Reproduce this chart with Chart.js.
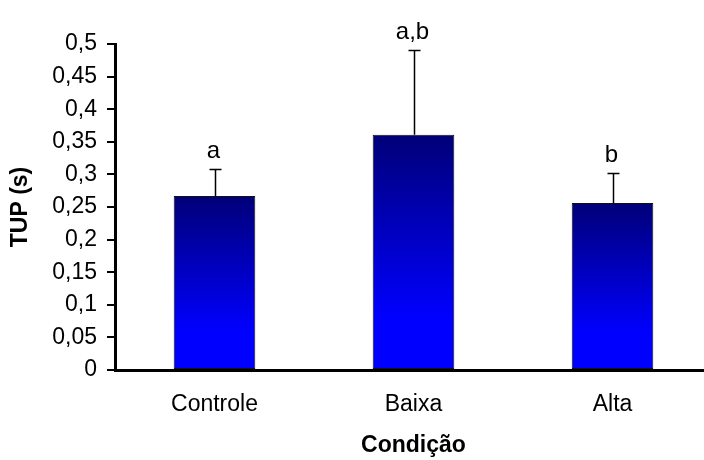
<!DOCTYPE html>
<html>
<head>
<meta charset="utf-8">
<title>TUP (s) por condição</title>
<script src="https://cdn.jsdelivr.net/npm/chart.js@4.4.1/dist/chart.umd.min.js"></script>
<style>
  html, body { margin: 0; padding: 0; background: #fff; }
  #wrap { width: 704px; height: 460px; overflow: hidden; }
</style>
</head>
<body>
<div id="wrap">
  <canvas id="tupChart" width="740" height="460"></canvas>
</div>
<script>
var categories = ['Controle', 'Baixa', 'Alta'];
var tupMeans = [0.267, 0.361, 0.256];
var tupErrors = [0.041, 0.130, 0.046];
var groupLetters = ['a', 'a,b', 'b'];
var yTickValues = [0, 0.05, 0.1, 0.15, 0.2, 0.25, 0.3, 0.35, 0.4, 0.45, 0.5];

var fontFamily = "'Liberation Sans', Arial, sans-serif";

// vertical fill per bar: navy at the top fading to pure blue near the base
function barGradient(ctx) {
    var chart = ctx.chart;
    var yScale = chart.scales.y;
    if (!yScale || !ctx.parsed) {
        return '#0000ff';
    }
    var top = yScale.getPixelForValue(ctx.parsed.y);
    var bottom = yScale.getPixelForValue(0);
    if (!isFinite(top) || !isFinite(bottom) || top === bottom) {
        return '#0000ff';
    }
    var g = chart.ctx.createLinearGradient(0, top, 0, bottom);
    g.addColorStop(0, '#000078');
    g.addColorStop(0.78, '#0000ff');
    g.addColorStop(1, '#0000ff');
    return g;
}

// one-sided error bars plus the group letters above each cap
var errorBars = {
    id: 'errorBars',
    afterDatasetsDraw: function (chart) {
        var ctx = chart.ctx;
        var yScale = chart.scales.y;
        var meta = chart.getDatasetMeta(0);
        ctx.save();
        ctx.strokeStyle = '#000';
        ctx.lineWidth = 1.5;
        ctx.fillStyle = '#000';
        ctx.font = '24px ' + fontFamily;
        ctx.textAlign = 'center';
        ctx.textBaseline = 'alphabetic';
        for (var i = 0; i < meta.data.length; i++) {
            var x = Math.round(meta.data[i].x) + 0.5;
            var yBar = yScale.getPixelForValue(tupMeans[i]);
            var yTop = Math.round(yScale.getPixelForValue(tupMeans[i] + tupErrors[i])) + 0.5;
            ctx.beginPath();
            ctx.moveTo(x, yBar);
            ctx.lineTo(x, yTop);
            ctx.moveTo(x - 6, yTop);
            ctx.lineTo(x + 6, yTop);
            ctx.stroke();
            ctx.fillText(groupLetters[i], x - 2, yTop - 12);
        }
        ctx.restore();
    }
};

var ctx = document.getElementById('tupChart').getContext('2d');
new Chart(ctx, {
    type: 'bar',
    data: {
        labels: categories,
        datasets: [{
            data: tupMeans,
            backgroundColor: barGradient,
            borderColor: '#111',
            borderWidth: 1,
            borderSkipped: false,
            categoryPercentage: 1,
            barPercentage: 0.41
        }]
    },
    options: {
        responsive: false,
        animation: false,
        layout: { padding: { left: 0, top: 44, right: 28, bottom: 0 } },
        plugins: {
            legend: { display: false },
            tooltip: { enabled: false }
        },
        scales: {
            x: {
                afterFit: function (scale) { scale.height = 90; },
                border: { color: '#000', width: 3 },
                grid: { display: false, drawTicks: false },
                ticks: {
                    color: '#000',
                    font: { family: fontFamily, size: 23 },
                    padding: 21,
                    maxRotation: 0
                },
                title: {
                    display: true,
                    text: 'Condição',
                    color: '#000',
                    font: { family: fontFamily, size: 23, weight: 'bold' },
                    padding: { top: 0, bottom: 1 }
                }
            },
            y: {
                min: 0,
                max: 0.5,
                afterFit: function (scale) { scale.width = 115; },
                afterBuildTicks: function (scale) {
                    scale.ticks = yTickValues.map(function (v) { return { value: v }; });
                },
                border: { color: '#000', width: 3 },
                grid: {
                    drawOnChartArea: false,
                    drawTicks: true,
                    tickLength: 8,
                    color: '#000',
                    lineWidth: 2
                },
                ticks: {
                    color: '#000',
                    font: { family: fontFamily, size: 23 },
                    padding: 10,
                    callback: function (v) { return String(v).replace('.', ','); }
                },
                title: {
                    display: true,
                    text: 'TUP (s)',
                    color: '#000',
                    font: { family: fontFamily, size: 23, weight: 'bold' },
                    padding: { top: 7, bottom: 0 }
                }
            }
        }
    },
    plugins: [errorBars]
});
</script>
</body>
</html>
